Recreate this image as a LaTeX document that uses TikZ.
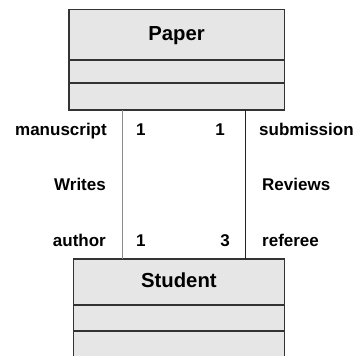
\documentclass[tikz,border=0pt]{standalone}
\usepackage{fontspec}
\setmainfont{Liberation Sans}
\begin{document}
\begin{tikzpicture}[x=1pt,y=-1pt,
  classbox/.style={draw=boxline,fill=boxfill,line width=1.6pt,inner sep=0pt,outer sep=0pt,rectangle},
  lbl/.style={inner sep=0pt,font=\fontsize{17}{17}\selectfont\bfseries},
  ttl/.style={font=\fontsize{20.3}{20.3}\selectfont\bfseries}]
\definecolor{boxfill}{HTML}{E6E6E6}
\definecolor{boxline}{HTML}{333333}
\definecolor{graylink}{HTML}{8A8A8A}
\definecolor{darklink}{HTML}{222222}
\useasboundingbox (0,0) rectangle (355,356);
\clip (0,0) rectangle (355,356);
% Paper class
\node[classbox,ttl,minimum width=215.6pt,text height=31.4pt,text depth=19.3pt,anchor=north] (p0) at (176.5,9.3) {Paper};
\node[classbox,minimum width=215.6pt,minimum height=22.7pt,anchor=north] (p1) at (p0.south) {};
\node[classbox,minimum width=215.6pt,minimum height=27.3pt,anchor=north] (p2) at (p1.south) {};
% Student class
\node[classbox,ttl,minimum width=210.8pt,text height=28.6pt,text depth=17.4pt,anchor=north] (s0) at (178.9,258.7) {Student};
\node[classbox,minimum width=210.8pt,minimum height=26.3pt,anchor=north] (s1) at (s0.south) {};
\node[classbox,minimum width=210.8pt,minimum height=50pt,anchor=north] (s2) at (s1.south) {};
% connectors
\coordinate (lx) at (122.3,0);
\coordinate (rx) at (245.7,0);
\draw[graylink,line width=1.6pt] (p2.south -| lx) -- (s0.north -| lx);
\draw[darklink,line width=1.2pt] (p2.south -| rx) -- (s0.north -| rx);
% labels
\node[lbl,anchor=base east] (l1) at (107,135) {manuscript};
\node[lbl,anchor=base west] (l2) at (136,135) {1};
\node[lbl,anchor=base east] (l3) at (225,135) {1};
\node[lbl,anchor=base west] (l4) at (259,135) {submission};
\node[lbl,anchor=base east] (l5) at (106,190) {Writes};
\node[lbl,anchor=base west] (l6) at (262,190) {Reviews};
\node[lbl,anchor=base east] (l7) at (106,246.7) {author};
\node[lbl,anchor=base west] (l8) at (136,246.7) {1};
\node[lbl,anchor=base east] (l9) at (230,246.7) {3};
\node[lbl,anchor=base west] (l10) at (262,246.7) {referee};
\end{tikzpicture}
\end{document}
